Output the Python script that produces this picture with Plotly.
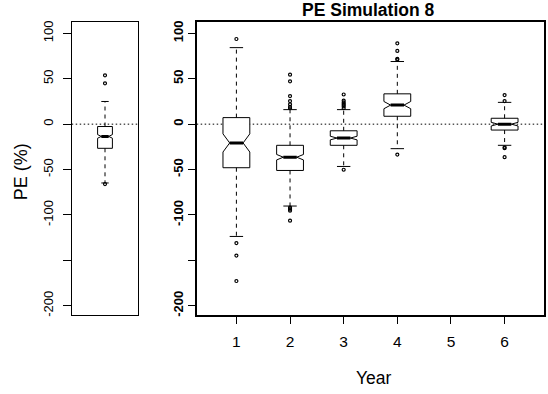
import plotly.graph_objects as go

# ---------------- data ----------------
years = [1, 2, 3, 4, 6]
q1 = [-48.0, -51.0, -23.3, 8.7, -6.5]
med = [-20.7, -36.4, -15.3, 21.0, 0.0]
q3 = [7.2, -23.3, -7.3, 33.4, 6.5]
notch = [10.0, 3.0, 2.0, 4.0, 2.0]
wlo = [-123.7, -90.2, -46.6, -27.0, -23.3]
whi = [84.3, 16.0, 16.0, 69.0, 24.0]
outliers = [
    [93.8, -131.0, -144.8, -172.8],
    [54.5, 47.2, 30.9, 25.4, 21.8, 19.0, 17.5, -92.0, -92.7, -94.0, -95.3, -106.3],
    [32.7, 26.0, 24.0, 22.5, 21.0, 19.5, 17.5, -50.2],
    [89.0, 80.7, 72.0, 71.0, -33.5],
    [32.0, 25.4, -25.5, -26.5, -36.4],
]

# overall (left panel)
all_q1, all_med, all_q3, all_notch = -26.6, -13.5, -2.6, 2.0
all_wlo, all_whi = -64.8, 25.0
all_out = [53.8, 45.0, -66.0]

yticks = [100, 50, 0, -50, -100, -150, -200]
ytext = ["100", "50", "0", "-50", "-100", "", "-200"]
xticks = [1, 2, 3, 4, 5, 6]

W, H = 548, 394
yr = [-210, 112]

fig = go.Figure()


def add_box(x, lo_h, m, hi_h, nt, wl, wh, outs, w, xa, ya):
    fig.add_trace(go.Box(
        x=[x], q1=[lo_h], median=[m], q3=[hi_h], lowerfence=[lo_h], upperfence=[hi_h],
        notchspan=[nt], notched=True, notchwidth=0.25, width=w, whiskerwidth=0,
        line=dict(color="black", width=1), fillcolor="white",
        boxpoints=False, xaxis=xa, yaxis=ya, showlegend=False, hoverinfo="skip"))
    # dashed whiskers
    fig.add_trace(go.Scatter(
        x=[x, x, None, x, x], y=[hi_h, wh, None, lo_h, wl], mode="lines",
        line=dict(color="black", width=1, dash="4px,4px"),
        xaxis=xa, yaxis=ya, showlegend=False, hoverinfo="skip"))
    # staples
    s = w * 0.25
    fig.add_trace(go.Scatter(
        x=[x - s, x + s, None, x - s, x + s], y=[wh, wh, None, wl, wl], mode="lines",
        line=dict(color="black", width=1),
        xaxis=xa, yaxis=ya, showlegend=False, hoverinfo="skip"))
    # thick median
    mw = w * 0.25
    fig.add_trace(go.Scatter(
        x=[x - mw, x + mw], y=[m, m], mode="lines",
        line=dict(color="black", width=3),
        xaxis=xa, yaxis=ya, showlegend=False, hoverinfo="skip"))
    # outliers
    fig.add_trace(go.Scatter(
        x=[x] * len(outs), y=outs, mode="markers",
        marker=dict(symbol="circle-open", size=3, color="black", line=dict(width=1.2, color="black")),
        xaxis=xa, yaxis=ya, showlegend=False, hoverinfo="skip"))


add_box(1, all_q1, all_med, all_q3, all_notch, all_wlo, all_whi, all_out, 0.24, "x", "y")
for i, yv in enumerate(years):
    add_box(yv, q1[i], med[i], q3[i], notch[i], wlo[i], whi[i], outliers[i], 0.5, "x2", "y2")

# zero reference lines
for xr, yref in (("x domain", "y"), ("x2 domain", "y2")):
    fig.add_shape(type="line", xref=xr, yref=yref, x0=0, x1=1, y0=0, y1=0,
                  line=dict(color="black", width=1, dash="1.5px,2.5px"), layer="below")

dom_y = [1 - 316 / H, 1 - 20.7 / H]
font = "Liberation Sans, Arial, sans-serif"

fig.update_layout(
    width=W, height=H, margin=dict(l=0, r=0, t=0, b=0),
    paper_bgcolor="white", plot_bgcolor="white",
    font=dict(family=font, color="black", size=13),
    xaxis=dict(domain=[71.7 / W, 138.3 / W], range=[0.46, 1.54], showticklabels=False,
               ticks="", showgrid=False, zeroline=False, showline=True, mirror=True,
               linecolor="black", linewidth=1),
    yaxis=dict(domain=dom_y, range=yr, tickvals=yticks, ticktext=ytext, tickangle=-90,
               ticks="outside", ticklen=8, tickcolor="black", tickwidth=1,
               showgrid=False, zeroline=False, showline=True, mirror=True,
               linecolor="black", linewidth=1, tickfont=dict(size=13), ticklabelstandoff=5),
    xaxis2=dict(domain=[196.7 / W, 544.3 / W], range=[0.26, 6.74], tickvals=xticks,
                ticks="outside", ticklen=7, tickcolor="black", tickwidth=1,
                showgrid=False, zeroline=False, showline=True, mirror=True,
                linecolor="black", linewidth=2, tickfont=dict(size=15.5), anchor="y2",
                ticklabelstandoff=5),
    yaxis2=dict(domain=dom_y, range=yr, tickvals=yticks,
                ticktext=["<b>%s</b>" % t if t else "" for t in ytext], tickangle=-90,
                ticks="outside", ticklen=7, tickcolor="black", tickwidth=1,
                showgrid=False, zeroline=False, showline=True, mirror=True,
                linecolor="black", linewidth=2, tickfont=dict(size=13), anchor="x2"),
    annotations=[
        dict(text="<b>PE Simulation 8</b>", x=368 / W, y=1 - 8.3 / H, xref="paper", yref="paper",
             showarrow=False, font=dict(size=17.5), xanchor="center", yanchor="middle"),
        dict(text="PE (%)", x=21 / W, y=1 - 172 / H, xref="paper", yref="paper",
             showarrow=False, textangle=-90, font=dict(size=18), xanchor="center", yanchor="middle"),
        dict(text="Year", x=374 / W, y=1 - 380 / H, xref="paper", yref="paper",
             showarrow=False, font=dict(size=17.5), xanchor="center", yanchor="middle"),
    ],
)

fig.write_html("out.html")
